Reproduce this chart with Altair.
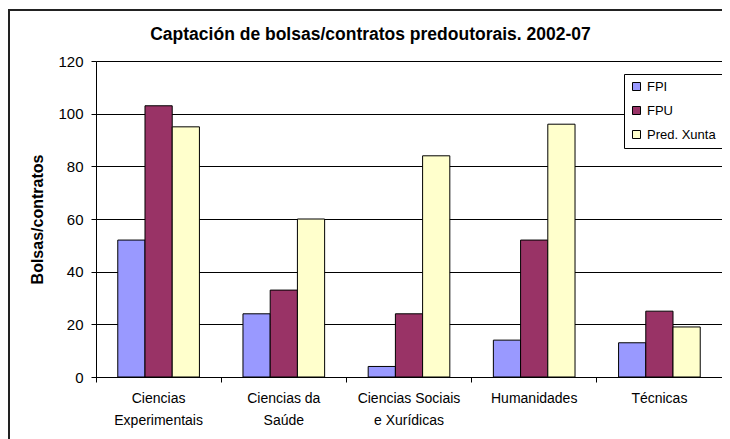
import altair as alt
import pandas as pd

# ---- data ----
categories = ["Ciencias|Experimentais", "Ciencias da|Saúde", "Ciencias Sociais|e Xurídicas", "Humanidades", "Técnicas"]
series = ["FPI", "FPU", "Pred. Xunta"]
fpi = [52, 24, 4, 14, 13]
fpu = [103, 33, 24, 52, 25]
xunta = [95, 60, 84, 96, 19]
colors = ["#9999FF", "#993366", "#FFFFCC"]
y_ticks = [0, 20, 40, 60, 80, 100, 120]

rows = []
for name, vals in zip(series, [fpi, fpu, xunta]):
    for c, v in zip(categories, vals):
        rows.append({"categoria": c, "serie": name, "valor": v})
df = pd.DataFrame(rows)

FONT = "Liberation Sans"

bars = alt.Chart(df).mark_bar(stroke="black", strokeWidth=1).encode(
    x=alt.X(
        "categoria:N",
        sort=categories,
        scale=alt.Scale(paddingInner=0, paddingOuter=0),
        axis=alt.Axis(
            title=None,
            labelExpr="split(datum.label, '|')",
            labelAngle=0,
            bandPosition=0,
            ticks=True,
            tickSize=5,
            grid=False,
            domainColor="black",
            tickColor="black",
            labelColor="black",
            labelFont=FONT,
            labelFontSize=14,
            labelPadding=9,
            labelLineHeight=22,
            labelBaseline="top",
            labelOverlap=False,
            labelLimit=300,
        ),
    ),
    xOffset=alt.XOffset("serie:N", sort=series, scale=alt.Scale(paddingInner=0, paddingOuter=0.8)),
    y=alt.Y(
        "valor:Q",
        scale=alt.Scale(domain=[0, 120], nice=False),
        axis=alt.Axis(
            values=y_ticks,
            title="Bolsas/contratos",
            titleFont=FONT,
            titleFontSize=16,
            titleFontWeight="bold",
            titleColor="black",
            titlePadding=12,
            grid=True,
            gridColor="black",
            gridWidth=1,
            domainColor="black",
            tickColor="black",
            tickSize=5,
            labelColor="black",
            labelFont=FONT,
            labelFontSize=15,
            labelPadding=8,
        ),
    ),
    color=alt.Color(
        "serie:N",
        sort=series,
        scale=alt.Scale(domain=series, range=colors),
        legend=alt.Legend(
            title=None,
            orient="none",
            legendX=528,
            legendY=13,
            fillColor="white",
            strokeColor="black",
            padding=6,
            symbolType="square",
            symbolSize=64,
            symbolStrokeColor="black",
            symbolStrokeWidth=1,
            labelFont=FONT,
            labelFontSize=13,
            labelColor="black",
            rowPadding=10,
        ),
    ),
)

border = alt.Chart(pd.DataFrame({"k": [0]})).mark_rect(
    filled=False, stroke="#222222", strokeWidth=2
).encode(
    x=alt.value(-87),
    x2=alt.value(640),
    y=alt.value(-51),
    y2=alt.value(385),
)

chart = alt.layer(border, bars).properties(
    width=626,
    height=316,
    autosize=alt.AutoSizeParams(type="none"),
    padding={"left": 88, "top": 53, "right": 0, "bottom": 62},
    title=alt.TitleParams(
        "Captación de bolsas/contratos predoutorais. 2002-07",
        font=FONT,
        fontSize=17.5,
        fontWeight="bold",
        color="black",
        anchor="middle",
        frame="bounds",
        dx=-2,
        offset=-34,
    ),
).configure_view(
    stroke="#808080", strokeWidth=1, fill="#C0C0C0"
).configure(background="white")

chart.save("out.html", embed_options={"renderer": "svg", "actions": False})
